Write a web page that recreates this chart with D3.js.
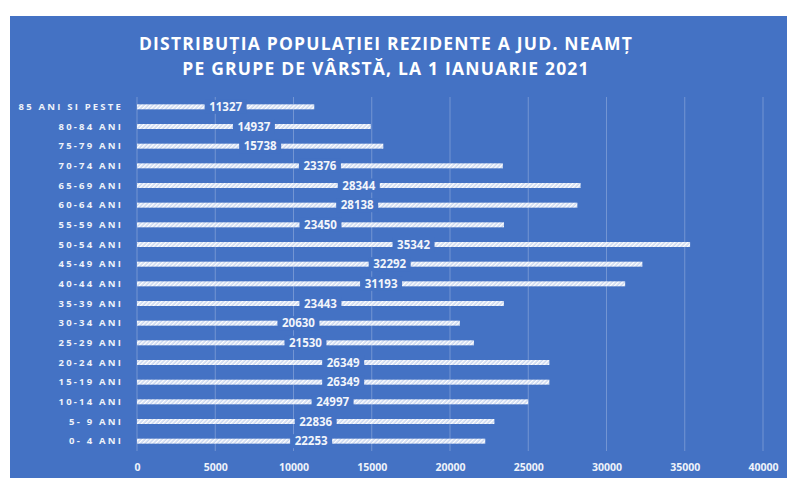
<!DOCTYPE html>
<html>
<head>
<meta charset="utf-8">
<script src="https://cdn.jsdelivr.net/npm/d3@7"></script>
<style>
  html, body { margin: 0; padding: 0; background: #fff; }
  svg { display: block; font-family: "Open Sans", "DejaVu Sans", sans-serif; }
</style>
</head>
<body>
<div id="chart"></div>
<script>
// --- date ---
const categories = [
  "85 ANI SI PESTE", "80-84 ANI", "75-79 ANI", "70-74 ANI", "65-69 ANI", "60-64 ANI",
  "55-59 ANI", "50-54 ANI", "45-49 ANI", "40-44 ANI", "35-39 ANI", "30-34 ANI",
  "25-29 ANI", "20-24 ANI", "15-19 ANI", "10-14 ANI", "5- 9 ANI", "0- 4 ANI"
];
const values = [
  11327, 14937, 15738, 23376, 28344, 28138,
  23450, 35342, 32292, 31193, 23443, 20630,
  21530, 26349, 26349, 24997, 22836, 22253
];
const xTicks = [0, 5000, 10000, 15000, 20000, 25000, 30000, 35000, 40000];
const titleLines = [
  "DISTRIBUȚIA  POPULAȚIEI REZIDENTE  A JUD. NEAMȚ",
  "PE GRUPE DE VÂRSTĂ, LA 1 IANUARIE 2021"
];

const W = 787, H = 478;
const bg = "#4472c4";
const margin = { top: 97, right: 24, bottom: 27, left: 137 };

const svg = d3.select("#chart").append("svg")
  .attr("width", W)
  .attr("height", H);

// hasura pentru bare
const defs = svg.append("defs");
const pat = defs.append("pattern")
  .attr("id", "hatch")
  .attr("patternUnits", "userSpaceOnUse")
  .attr("width", 3)
  .attr("height", 3)
  .attr("patternTransform", "rotate(45)");
pat.append("rect").attr("width", 3).attr("height", 3).attr("fill", "#c9d6ef");
pat.append("rect").attr("width", 1.4).attr("height", 3).attr("fill", "#ffffff");

// fundal
svg.append("rect")
  .attr("x", 10).attr("y", 16)
  .attr("width", W - 10).attr("height", H - 16)
  .attr("fill", bg);

// titlu
svg.append("g").selectAll("text")
  .data(titleLines)
  .join("text")
  .attr("x", 386)
  .attr("y", (d, i) => 50 + i * 25)
  .attr("text-anchor", "middle")
  .attr("fill", "#ffffff")
  .attr("font-size", 17.5)
  .attr("font-weight", "bold")
  .attr("letter-spacing", 1.2)
  .text(d => d);

const x = d3.scaleLinear()
  .domain([0, 40000])
  .range([margin.left, W - margin.right]);

const y = d3.scaleBand()
  .domain(categories)
  .range([margin.top, H - margin.bottom]);

// grila
svg.append("g").selectAll("line")
  .data(xTicks)
  .join("line")
  .attr("x1", d => x(d)).attr("x2", d => x(d))
  .attr("y1", margin.top).attr("y2", H - margin.bottom)
  .attr("stroke", "#ffffff")
  .attr("stroke-opacity", 0.25)
  .attr("stroke-width", 1);

// axa x
const xAxis = d3.axisBottom(x).tickValues(xTicks).tickFormat(d3.format("d")).tickSize(0).tickPadding(0);
svg.append("g")
  .attr("transform", `translate(0, ${H - margin.bottom})`)
  .call(xAxis)
  .call(g => g.select(".domain").remove())
  .call(g => g.selectAll("text")
    .attr("dy", 0)
    .attr("y", 20)
    .attr("fill", "#eef2fa")
    .attr("font-size", 10.5)
    .attr("font-weight", "bold")
    .attr("font-family", "'Open Sans', sans-serif"));

// axa y (categorii)
const yAxis = d3.axisLeft(y).tickSize(0).tickPadding(14);
svg.append("g")
  .attr("transform", `translate(${margin.left}, 0)`)
  .call(yAxis)
  .call(g => g.select(".domain").remove())
  .call(g => g.selectAll("text")
    .attr("fill", "#eef2fa")
    .attr("font-size", 9.5)
    .attr("font-weight", "bold")
    .attr("letter-spacing", 2.2)
    .attr("font-family", "'Open Sans', sans-serif"));

// bare
const barH = 5;
svg.append("g").selectAll("rect")
  .data(values)
  .join("rect")
  .attr("x", x(0))
  .attr("y", (d, i) => y(categories[i]) + y.bandwidth() / 2 - barH / 2)
  .attr("width", d => x(d) - x(0))
  .attr("height", barH)
  .attr("fill", "url(#hatch)");

// etichete valori (centrate pe bara, cu fundal)
const labels = svg.append("g").selectAll("g")
  .data(values)
  .join("g")
  .attr("transform", (d, i) =>
    `translate(${(x(0) + x(d)) / 2}, ${y(categories[i]) + y.bandwidth() / 2})`);

labels.append("rect")
  .attr("x", -21).attr("y", -7)
  .attr("width", 42).attr("height", 14)
  .attr("fill", bg);

labels.append("text")
  .attr("text-anchor", "middle")
  .attr("dy", "0.36em")
  .attr("fill", "#f2f5fb")
  .attr("font-size", 11.5)
  .attr("font-weight", "bold")
  .text(d => d);
</script>
</body>
</html>
